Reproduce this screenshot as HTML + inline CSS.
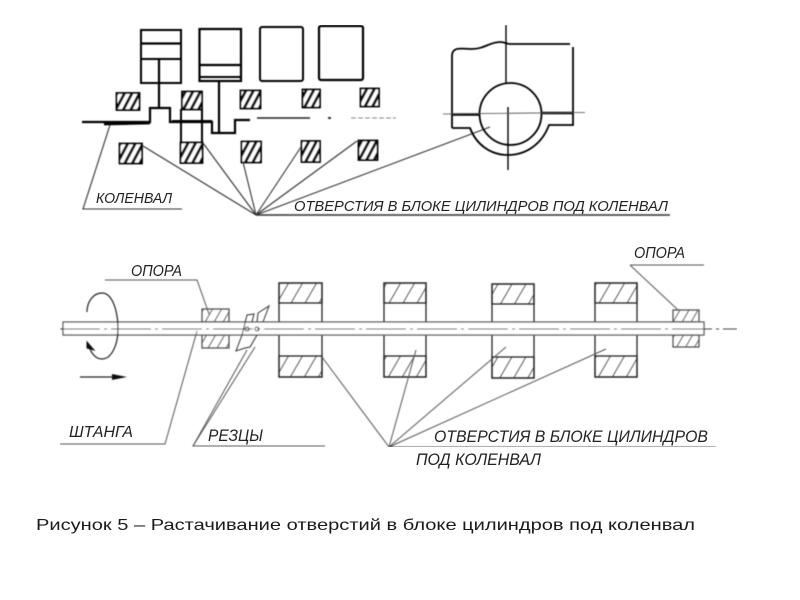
<!DOCTYPE html>
<html><head><meta charset="utf-8"><style>
html,body{margin:0;padding:0;background:#fff;width:800px;height:600px;overflow:hidden}
svg{display:block}
text{font-family:"Liberation Sans",sans-serif;font-style:italic;fill:#222}
.cap{font-style:normal;fill:#1a1a1a}
</style></head><body>
<svg width="800" height="600" viewBox="0 0 800 600" xmlns="http://www.w3.org/2000/svg">
<defs>
<pattern id="h1" patternUnits="userSpaceOnUse" width="7.5" height="20" patternTransform="skewX(-28)"><rect width="7.5" height="20" fill="#fff"/><rect width="3.2" height="20" fill="#111"/></pattern>
<pattern id="h2" patternUnits="userSpaceOnUse" width="14" height="40" patternTransform="skewX(-30)"><line x1="4" y1="0" x2="4" y2="40" stroke="#444" stroke-width="1"/></pattern>
<pattern id="h3" patternUnits="userSpaceOnUse" width="9" height="40" patternTransform="skewX(-30)"><line x1="4" y1="0" x2="4" y2="40" stroke="#555" stroke-width="1"/></pattern>
<filter id="b" x="0" y="0" width="100%" height="100%"><feGaussianBlur stdDeviation="0.4"/></filter>
</defs>
<g filter="url(#b)">
<!-- top left cylinders -->
<g fill="none" stroke="#000" stroke-width="2">
<rect x="141" y="30" width="40" height="53"/>
<line x1="141" y1="43.500" x2="181" y2="43.500" stroke-width="2.200"/>
<line x1="141" y1="59" x2="181" y2="59"/>
<line x1="159" y1="59" x2="159" y2="107" stroke-width="2.200"/>
<rect x="199.500" y="29" width="41.500" height="52" stroke-width="2.200"/>
<line x1="199" y1="65" x2="241" y2="65" stroke-width="2.200"/>
<line x1="199" y1="77" x2="241" y2="77"/>
<line x1="219" y1="81" x2="219" y2="133" stroke-width="2.200"/>
<rect x="260" y="27" width="43" height="54" rx="2"/>
<rect x="319" y="26" width="44" height="54" rx="2" stroke-width="2.200"/>
<polyline points="82,122 150,122 150,108 170,108 170,122 212,122 212,133 235,133 235,120 250,120" stroke-width="2.200"/>
<line x1="104" y1="124" x2="150" y2="123" stroke-width="2.800"/>
<line x1="172" y1="121.500" x2="212" y2="121.500" stroke-width="3"/>
<line x1="257" y1="118" x2="310" y2="118" stroke="#222" stroke-width="1.500"/>
<line x1="351" y1="118" x2="396" y2="118" stroke="#888" stroke-width="1" stroke-dasharray="5 2"/>
<line x1="328" y1="118" x2="331" y2="118" stroke="#333"/>
<line x1="181" y1="109" x2="181" y2="142"/>
<line x1="202" y1="109" x2="202" y2="142"/>
</g>
<g fill="url(#h1)" stroke="#000" stroke-width="1.800">
<rect x="116.500" y="93" width="23" height="17"/>
<rect x="182" y="91.500" width="20" height="18"/>
<rect x="240.500" y="90.500" width="20" height="18"/>
<rect x="302.500" y="89.500" width="17.500" height="18"/>
<rect x="360.500" y="88.500" width="18.500" height="18"/>
<rect x="119.500" y="143.500" width="22.500" height="20"/>
<rect x="180.500" y="142.500" width="22" height="20.500"/>
<rect x="241.500" y="141.500" width="19.500" height="21"/>
<rect x="301.500" y="141" width="18.500" height="21"/>
<rect x="358.500" y="140.500" width="19" height="19.500"/>
</g>
<!-- top leaders -->
<g fill="none" stroke="#333" stroke-width="1.100">
<polyline points="110,125 83,209 182,209"/>
<line x1="143" y1="146" x2="256" y2="215"/>
<line x1="203" y1="143" x2="256" y2="215"/>
<line x1="243" y1="162" x2="256" y2="215"/>
<line x1="301" y1="147" x2="256" y2="215"/>
<line x1="357" y1="141" x2="256" y2="215"/>
<line x1="490" y1="127" x2="256" y2="215"/>
<line x1="256" y1="215" x2="670" y2="215" stroke-width="1.500"/>
</g>
<!-- top right section -->
<g fill="none" stroke="#000" stroke-width="1.800">
<path d="M452 128 L452 56 C452 46 462 49 472 49 C484 49 490 42 500 42 C505 42 506 44 510 44 L570 44"/>
<path d="M573 47 L573 125 L549 125 C542 144 526 155 508 155 C490 155 476 144 470 128 L452 128"/>
<circle cx="510.500" cy="114" r="31"/>
<line x1="452" y1="114.500" x2="479" y2="114.500" stroke-width="2.600"/>
<line x1="542" y1="113" x2="573" y2="113" stroke-width="2.600"/>
<line x1="506" y1="25" x2="506" y2="83" stroke-width="1.400"/>
<line x1="508" y1="107" x2="508" y2="170" stroke-width="1.400"/>
<line x1="443" y1="114" x2="585" y2="112.500" stroke="#444" stroke-width="0.800"/>
</g>
<!-- bottom blocks -->
<g stroke="#222" stroke-width="1.300">
<rect x="202" y="309" width="27" height="13" fill="url(#h3)" stroke="#555"/>
<rect x="202" y="335" width="27" height="13" fill="url(#h3)" stroke="#555"/>
<rect x="673" y="310" width="26" height="12" fill="url(#h3)" stroke="#555"/>
<rect x="673" y="335" width="26" height="12" fill="url(#h3)" stroke="#555"/>
<g fill="none">
<rect x="279" y="283" width="43" height="94"/>
<rect x="279" y="283" width="43" height="20" fill="url(#h2)"/>
<rect x="279" y="356" width="43" height="21" fill="url(#h2)"/>
<rect x="384" y="283" width="42" height="94"/>
<rect x="384" y="283" width="42" height="20" fill="url(#h2)"/>
<rect x="384" y="356" width="42" height="21" fill="url(#h2)"/>
<rect x="492" y="284" width="42" height="94"/>
<rect x="492" y="284" width="42" height="20" fill="url(#h2)"/>
<rect x="492" y="357" width="42" height="21" fill="url(#h2)"/>
<rect x="595" y="283" width="42" height="94"/>
<rect x="595" y="283" width="42" height="20" fill="url(#h2)"/>
<rect x="595" y="356" width="42" height="21" fill="url(#h2)"/>
</g>
</g>
<!-- shaft -->
<rect x="63" y="322" width="641" height="13" fill="#fff" stroke="#555" stroke-width="1.300"/>
<line x1="60" y1="329" x2="737" y2="329" stroke="#444" stroke-width="1" stroke-dasharray="40 4 3 4"/>
<!-- cutters -->
<g fill="none" stroke="#333" stroke-width="1">
<path d="M242 335 L247 315 L254 314 L252 322"/>
<path d="M257 322 L258 313 L269 306 L263 322"/>
<path d="M242 335 L236 351 L245 348 L250 347 L257 335"/>
<circle cx="247" cy="329" r="2"/>
<circle cx="257" cy="329" r="2"/>
</g>
<!-- rotation arrows -->
<path d="M87 312 C87 302 93 293 102 293 C112 293 118 310 118 329 C118 346 111 359 102 359 C95 359 90 352 88 343" fill="none" stroke="#222" stroke-width="1.200"/>
<path d="M87 342 L94 350 L87 348 Z" fill="#111" stroke="#111"/>
<line x1="80" y1="377" x2="115" y2="377" stroke="#222" stroke-width="1.200"/>
<path d="M112 374 L127 377 L112 380 Z" fill="#111"/>
<!-- bottom leaders -->
<g fill="none" stroke="#555" stroke-width="1">
<polyline points="105,280 197,280 209,314"/>
<polyline points="630,265 704,265"/>
<line x1="630" y1="265" x2="678" y2="310"/>
<polyline points="60,444 165,444 197,331"/>
<polyline points="325,446 193,446 247,350"/>
<line x1="193" y1="446" x2="255" y2="347"/>
<line x1="322" y1="357" x2="389" y2="447"/>
<line x1="416" y1="350" x2="389" y2="447"/>
<line x1="506" y1="347" x2="389" y2="447"/>
<line x1="606" y1="349" x2="389" y2="447"/>
<line x1="389" y1="447" x2="716" y2="447"/>
</g>
</g>
<!-- labels -->
<text x="96" y="203" font-size="15" textLength="76" lengthAdjust="spacingAndGlyphs">КОЛЕНВАЛ</text>
<text x="294" y="211" font-size="15" textLength="374" lengthAdjust="spacingAndGlyphs">ОТВЕРСТИЯ В БЛОКЕ ЦИЛИНДРОВ ПОД КОЛЕНВАЛ</text>
<text x="131" y="276" font-size="16" textLength="51" lengthAdjust="spacingAndGlyphs">ОПОРА</text>
<text x="634" y="258" font-size="16" textLength="51" lengthAdjust="spacingAndGlyphs">ОПОРА</text>
<text x="69" y="437" font-size="16" textLength="64" lengthAdjust="spacingAndGlyphs">ШТАНГА</text>
<text x="208" y="441" font-size="17" textLength="55" lengthAdjust="spacingAndGlyphs">РЕЗЦЫ</text>
<text x="434" y="442" font-size="16.500" textLength="274" lengthAdjust="spacingAndGlyphs">ОТВЕРСТИЯ В БЛОКЕ ЦИЛИНДРОВ</text>
<text x="416" y="465" font-size="16.500" textLength="125" lengthAdjust="spacingAndGlyphs">ПОД КОЛЕНВАЛ</text>
<text class="cap" x="36" y="530" font-size="16" textLength="659" lengthAdjust="spacingAndGlyphs">Рисунок 5 – Растачивание отверстий в блоке цилиндров под коленвал</text>
</svg>
</body></html>
